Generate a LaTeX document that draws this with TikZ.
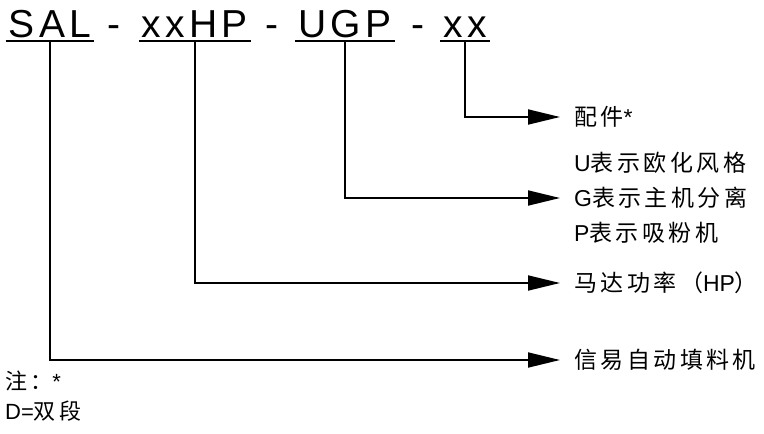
\documentclass[tikz,border=0pt]{standalone}
\usepackage{fontspec}
\setmainfont{Liberation Sans}
\newfontfamily\zhfont[LetterSpace=15]{Noto Sans CJK SC}
\newfontfamily\codefont[LetterSpace=11]{Liberation Sans}
\newcommand{\zh}[1]{{\zhfont #1}}
\usetikzlibrary{arrows.meta}

\begin{document}
\begin{tikzpicture}[x=1pt,y=-1pt,
	code/.style={font=\codefont\fontsize{39}{42}\selectfont, anchor=base, inner xsep=3pt, inner ysep=4pt, text depth=0pt},
	sep/.style={font=\codefont\fontsize{39}{42}\selectfont, anchor=base, inner sep=0pt},
	desc/.style={font=\fontsize{23}{35}\selectfont, anchor=west, inner xsep=14pt, inner ysep=0pt, align=left},
	note/.style={font=\fontsize{22}{24}\selectfont, anchor=west, inner sep=0pt},
	link/.style={line width=1.8pt, -{Triangle[length=32pt,width=15pt]}}]
	\useasboundingbox (0,0) rectangle (764,434);
	% model code
	\node (sal) at (50,37) [code] {SAL};
	\node (hp) at (195,37) [code] {xxHP};
	\node (ugp) at (345,37) [code] {UGP};
	\node (opt) at (465,37) [code] {xx};
	\node (d1) at (114,37) [sep] {-};
	\node (d2) at (272,37) [sep] {-};
	\node (d3) at (418,37) [sep] {-};
	\foreach \n in {sal,hp,ugp,opt} {
		\draw[line width=1.8pt] (\n.south west) -- (\n.south east);
	}
	% meanings
	\node (acc) at (560,117) [desc] {\zh{配件}*};
	\node (type) at (560,198) [desc] {U\zh{表示欧化风格}\\G\zh{表示主机分离}\\P\zh{表示吸粉机}};
	\node (power) at (560,283) [desc] {\zh{马达功率（}HP\zh{）}};
	\node (brand) at (560,360) [desc] {\zh{信易自动填料机}};
	\draw[link] (opt.south) |- (acc.west);
	\draw[link] (ugp.south) |- (type.west);
	\draw[link] (hp.south) |- (power.west);
	\draw[link] (sal.south) |- (brand.west);
	% notes
	\node (star) at (5,381) [note] {\zh{注：}*};
	\node (dseg) at (5,411) [note] {D=\zh{双段}};
\end{tikzpicture}
\end{document}
